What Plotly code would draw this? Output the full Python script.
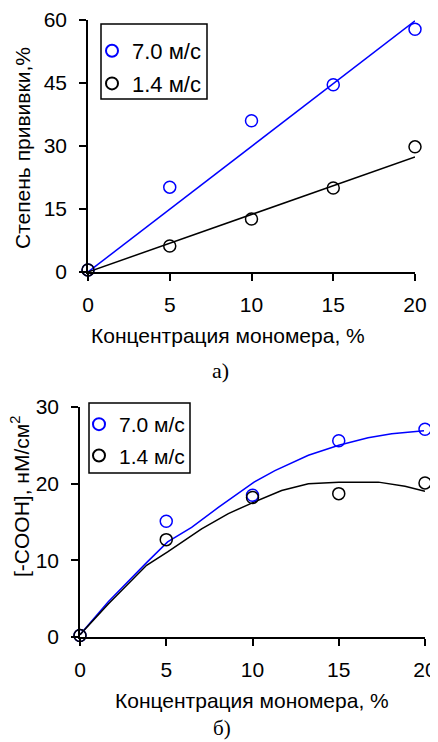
import plotly.graph_objects as go

# page body adds an 8px margin; lay out the figure so the picture lands at the reference pixels
OFF = 8
W, H = 438 - OFF, 742 - OFF

# ---- data ----
conc = [0, 5, 10, 15, 20]
labels = ["7.0 м/с", "1.4 м/с"]

# panel a) graft degree, %
graft_fast = [0.5, 20.2, 36.0, 44.6, 57.8]
graft_slow = [0.5, 6.2, 12.6, 20.0, 29.8]
fit_x = [0, 20]
graft_fit_fast = [0, 59.8]
graft_fit_slow = [0, 27.4]

# panel b) [-COOH], nM/cm2
cooh_fast = [0.2, 15.1, 18.5, 25.6, 27.1]
cooh_slow = [0.2, 12.7, 18.2, 18.7, 20.1]
curve_fast_x = [0, 1.64, 3.86, 5.08, 6.47, 8.02, 10.09, 11.3, 13.24, 15.0, 16.7, 18.07, 19.94]
curve_fast_y = [0.3, 4.6, 9.7, 12.4, 14.3, 16.9, 20.2, 21.7, 23.7, 25.0, 26.0, 26.5, 26.9]
curve_slow_x = [0, 1.64, 3.86, 5.08, 7.05, 8.6, 10.09, 11.69, 13.24, 15.0, 17.3, 18.84, 20.0]
curve_slow_y = [0.3, 4.3, 9.35, 11.1, 14.1, 16.1, 17.6, 19.1, 20.0, 20.2, 20.2, 19.65, 19.0]

BLUE = "#0000FF"
BLACK = "#000000"
FONT = "Liberation Sans"

def px_x(p):
    return (p - OFF) / W

def px_y(p):
    return 1 - (p - OFF) / H

fig = go.Figure()

mk = dict(symbol="circle-open", size=12, line=dict(width=1.5))

# panel a
fig.add_trace(go.Scatter(x=fit_x, y=graft_fit_fast, mode="lines", line=dict(color=BLUE, width=1.5),
                         showlegend=False, xaxis="x", yaxis="y"))
fig.add_trace(go.Scatter(x=fit_x, y=graft_fit_slow, mode="lines", line=dict(color=BLACK, width=1.5),
                         showlegend=False, xaxis="x", yaxis="y"))
fig.add_trace(go.Scatter(x=conc, y=graft_fast, mode="markers", name=labels[0], cliponaxis=False,
                         marker=dict(mk, color=BLUE), xaxis="x", yaxis="y", legend="legend", legendgroup="a1"))
fig.add_trace(go.Scatter(x=conc, y=graft_slow, mode="markers", name=labels[1], cliponaxis=False,
                         marker=dict(mk, color=BLACK), xaxis="x", yaxis="y", legend="legend", legendgroup="a2"))

# panel b
fig.add_trace(go.Scatter(x=curve_fast_x, y=curve_fast_y, mode="lines", line=dict(color=BLUE, width=1.5),
                         showlegend=False, xaxis="x2", yaxis="y2"))
fig.add_trace(go.Scatter(x=curve_slow_x, y=curve_slow_y, mode="lines", line=dict(color=BLACK, width=1.5),
                         showlegend=False, xaxis="x2", yaxis="y2"))
fig.add_trace(go.Scatter(x=conc, y=cooh_fast, mode="markers", name=labels[0], cliponaxis=False,
                         marker=dict(mk, color=BLUE), xaxis="x2", yaxis="y2", legend="legend2", legendgroup="b1"))
fig.add_trace(go.Scatter(x=conc, y=cooh_slow, mode="markers", name=labels[1], cliponaxis=False,
                         marker=dict(mk, color=BLACK), xaxis="x2", yaxis="y2", legend="legend2", legendgroup="b2"))

ax_common = dict(showline=True, linecolor="black", linewidth=1.5, ticks="outside", ticklen=7,
                 tickwidth=1.5, tickcolor="black", showgrid=False, zeroline=False, automargin=False,
                 tickfont=dict(family=FONT, size=21, color="black"), fixedrange=True)

leg_common = dict(bgcolor="rgba(0,0,0,0)", borderwidth=0, xanchor="left", yanchor="top",
                  tracegroupgap=1, itemsizing="constant")

fig.update_layout(
    width=W, height=H,
    margin=dict(l=0, r=0, t=0, b=0),
    paper_bgcolor="white", plot_bgcolor="white",
    xaxis=dict(ax_common, domain=[px_x(88), px_x(415)], range=[0, 20], tickvals=[0, 5, 10, 15, 20],
               anchor="y", ticklabelstandoff=6),
    yaxis=dict(ax_common, domain=[px_y(272), px_y(20)], range=[0, 60], tickvals=[0, 15, 30, 45, 60],
               anchor="x", ticklabelstandoff=8),
    xaxis2=dict(ax_common, domain=[px_x(80), px_x(425)], range=[0, 20], tickvals=[0, 5, 10, 15, 20],
                anchor="y2", ticklabelstandoff=6),
    yaxis2=dict(ax_common, domain=[px_y(637), px_y(407)], range=[0, 30], tickvals=[0, 10, 20, 30],
                anchor="x2", ticklabelstandoff=8),
    legend=dict(leg_common, x=px_x(92), y=px_y(30), font=dict(family=FONT, size=22, color="black")),
    legend2=dict(leg_common, x=px_x(79), y=px_y(404), font=dict(family=FONT, size=21, color="black")),
    showlegend=True,
    shapes=[
        dict(type="rect", xref="paper", yref="paper", x0=px_x(101), x1=px_x(207), y0=px_y(99), y1=px_y(24),
             line=dict(color="black", width=1.5), layer="below", fillcolor="white"),
        dict(type="rect", xref="paper", yref="paper", x0=px_x(89), x1=px_x(190), y0=px_y(473), y1=px_y(403),
             line=dict(color="black", width=1.5), layer="below", fillcolor="white"),
    ],
)

ann = [
    dict(text="Степень прививки,%", x=px_x(22), y=px_y(148), textangle=-90, size=21, family=FONT),
    dict(text="Концентрация мономера, %", x=px_x(228), y=px_y(336), textangle=0, size=21, family=FONT),
    dict(text="а)", x=px_x(220), y=px_y(371), textangle=0, size=22, family="Liberation Serif"),
    dict(text="[-COOH], нМ/см<sup>2</sup>", x=px_x(20), y=px_y(497), textangle=-90, size=21, family=FONT),
    dict(text="Концентрация мономера, %", x=px_x(252), y=px_y(700), textangle=0, size=21, family=FONT),
    dict(text="б)", x=px_x(222), y=px_y(728), textangle=0, size=21, family="Liberation Serif"),
]
for a in ann:
    fig.add_annotation(text=a["text"], x=a["x"], y=a["y"], xref="paper", yref="paper",
                       xanchor="center", yanchor="middle", showarrow=False, textangle=a["textangle"],
                       font=dict(family=a["family"], size=a["size"], color="black"))

fig.write_html("out.html", config={"displayModeBar": False})
